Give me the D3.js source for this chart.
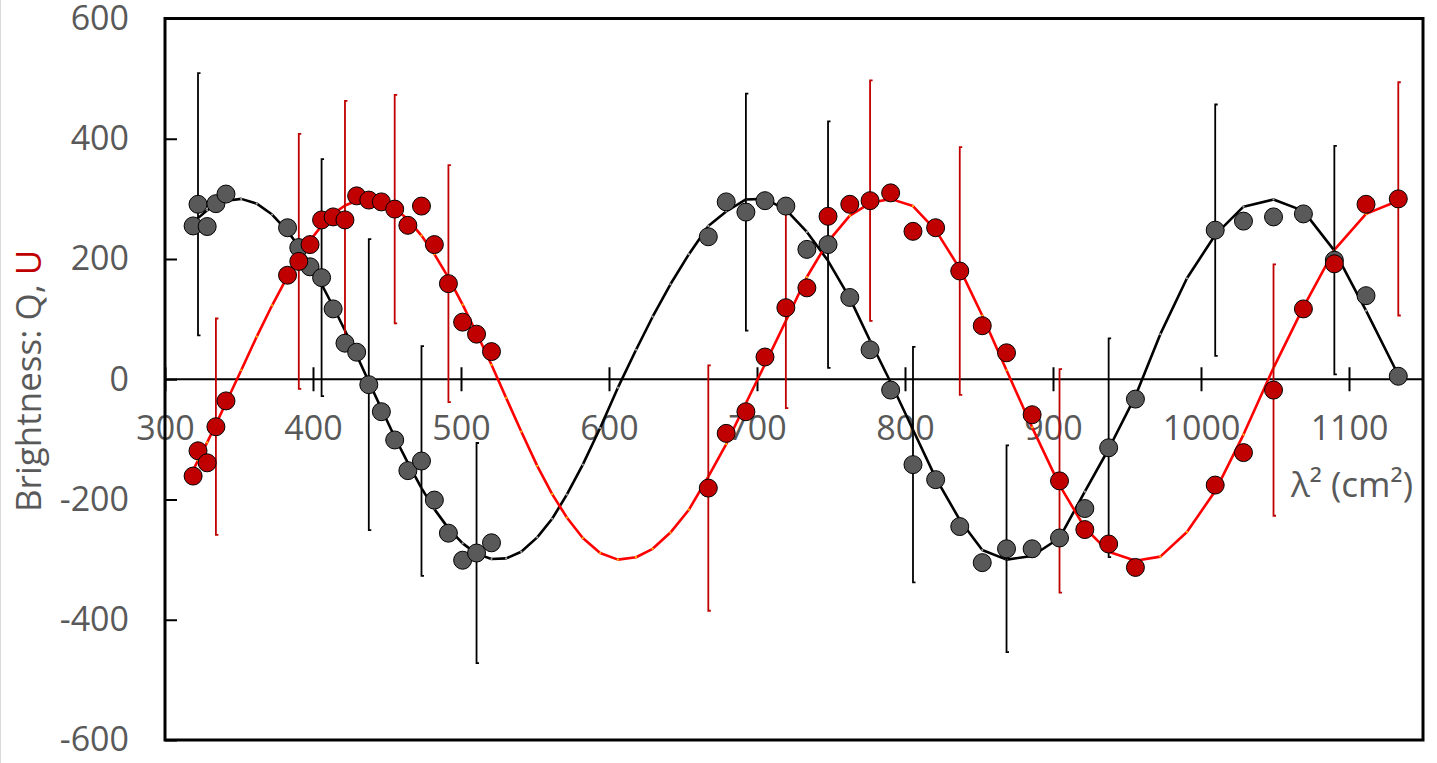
<!DOCTYPE html>
<html>
<head>
<meta charset="utf-8">
<script src="https://cdn.jsdelivr.net/npm/d3@7"></script>
<style>
  body { margin: 0; background: #fff; }
  svg { display: block; }
  text { font-family: 'Open Sans', sans-serif; fill: #595959; }
</style>
</head>
<body>
<div id="chart"></div>
<script>
// observed points (lambda^2 in cm^2), Stokes Q and U, error bars (null = none)
const lambda2 = [319, 322.3, 328.5, 334.4, 341.2, 382.8, 390.4, 398, 405.8, 413.6, 421.6,
  429.5, 437.7, 446.2, 455.2, 464.1, 473.3, 482, 491.5, 501.1, 510.5, 520.6,
  667.1, 679.2, 692.5, 705.4, 719.5, 733.7, 748, 762.7, 776.4, 790.3, 805.4, 820.7,
  837, 852.2, 868.6, 885.9, 904.4, 921.5, 937.6, 955.7,
  1009.6, 1028.7, 1049, 1069.2, 1090.1, 1111.5, 1133.3]
const qObs = [255, 291, 254, 292, 308, 252, 219, 187, 169, 117, 60, 45, -9, -54, -101, -152,
  -136, -201, -256, -301, -289, -272,
  237, 295, 278, 297, 288, 216, 224, 136, 49, -18, -142, -167, -245, -305, -282, -282,
  -264, -215, -114, -33,
  248, 263, 270, 275, 198, 139, 5]
const uObs = [-161, -119, -139, -79, -36, 173, 196, 224, 265, 270, 265, 305, 298, 295, 283, 256,
  288, 224, 159, 95, 75, 46,
  -181, -90, -54, 37, 119, 152, 271, 291, 297, 310, 246, 252, 180, 89, 44, -59,
  -169, -250, -274, -313,
  -176, -122, -18, 117, 192, 291, 300]
const qErr = [null, 218, null, null, null, null, null, null, 197, null, null, null, 242, null,
  null, null, 191, null, null, null, 183, null,
  null, null, 197, null, null, null, 205, null, null, null, 196, null, null, null, 172, null,
  null, null, 182, null,
  209, null, null, null, 190, null, null]
const uErr = [null, null, null, 180, null, null, 212, null, null, null, 198, null, null, null,
  190, null, null, null, 197, null, null, null,
  204, null, null, null, 167, null, null, null, 200, null, null, null, 206, null, null, null,
  186, null, null, null,
  null, null, 209, null, null, null, 194]

// model curves
const modelX = [319, 322.3, 328.5, 334.4, 341.2, 351.5, 362, 372.4, 382.8, 390.4, 398, 405.8,
  413.6, 421.6, 429.5, 437.7, 446.2, 455.2, 464.1, 473.3, 482, 491.5, 501.1, 510.5, 520.6,
  530.5, 540.7, 551.5, 561.6, 571.5, 582.3, 594, 606, 618.3, 629.5, 641.5, 654,
  667.1, 679.2, 692.5, 705.4, 719.5, 733.7, 748, 762.7, 776.4, 790.3, 805.4, 820.7, 837,
  852.2, 868.6, 885.9, 904.4, 921.5, 937.6, 955.7, 972.5, 990.5,
  1009.6, 1028.7, 1049, 1069.2, 1090.1, 1111.5, 1133.3]
const qModel = [260, 268, 281, 290, 297, 300, 292, 274, 246, 221, 192, 158, 121, 81, 40, -4,
  -49, -96, -139, -181, -216, -248, -273, -290, -299,
  -298, -287, -263, -232, -192, -142, -81, -14, 49, 104, 158, 208,
  255, 279, 299, 300, 282, 245, 197, 135, 64, -5, -84, -164, -234, -284, -300, -294,
  -264, -187, -116, -28, 75, 168,
  240, 287, 299, 280, 214, 114, 7]
const uModel = [-151, -135, -105, -75, -39, 15, 71, 123, 171, 203, 231, 255, 275, 289, 297,
  300, 296, 284, 266, 239, 208, 169, 124, 77, 24,
  -31, -87, -144, -191, -230, -264, -289, -300, -296, -282, -255, -217,
  -162, -108, -40, 25, 97, 170, 229, 272, 293, 300, 288, 248, 184, 106, 15, -80,
  -176, -247, -287, -302, -295, -254,
  -186, -92, 19, 120, 215, 275, 297]

const xTicks = [300, 400, 500, 600, 700, 800, 900, 1000, 1100]
const yTicks = [-600, -400, -200, 0, 200, 400, 600]

const width = 1437
const height = 763
const plot = { left: 165, right: 1423, top: 18.5, bottom: 740 }

let svg = d3
  .select('#chart')
  .append('svg')
  .attr('width', width)
  .attr('height', height)

let xScale = d3.scaleLinear().domain([300, 1150]).range([plot.left, plot.right])
let yScale = d3.scaleLinear().domain([-600, 600]).range([plot.bottom, plot.top])

// plain labels: "1000", "-200" (no grouping, ascii minus)
let plain = d => String(d)

// thin grey edge at the far left
svg.append('line')
  .attr('x1', 0.5).attr('x2', 0.5).attr('y1', 0).attr('y2', height)
  .attr('stroke', '#d9d9d9').attr('stroke-width', 1)

// y axis, ticks pointing inward
let yAxis = svg.append('g')
  .attr('transform', `translate(${plot.left},0)`)
  .call(d3.axisLeft(yScale).tickValues(yTicks).tickFormat(plain).tickSize(-12).tickPadding(36))
yAxis.select('.domain').remove()
yAxis.selectAll('.tick line').attr('stroke', '#000').attr('stroke-width', 2)
yAxis.selectAll('text').attr('font-size', 34).attr('fill', '#595959')
  .style('font-family', "'Open Sans', sans-serif")

// x axis along zero, ticks crossing the line
let xAxis = svg.append('g')
  .attr('transform', `translate(0,${yScale(0)})`)
  .call(d3.axisBottom(xScale).tickValues(xTicks).tickFormat(plain).tickSize(12).tickPadding(25))
xAxis.select('.domain').remove()
xAxis.selectAll('.tick line').attr('y1', -12).attr('stroke', '#000').attr('stroke-width', 2)
xAxis.selectAll('text').attr('font-size', 34).attr('fill', '#595959')
  .style('font-family', "'Open Sans', sans-serif")

svg.append('line')
  .attr('x1', plot.left).attr('x2', plot.right)
  .attr('y1', yScale(0)).attr('y2', yScale(0))
  .attr('stroke', '#000').attr('stroke-width', 2)

// model curves
let model = modelX.map((x, i) => ({ x: x, q: qModel[i], u: uModel[i] }))

let qLine = d3.line().x(d => xScale(d.x)).y(d => yScale(d.q))
let uLine = d3.line().x(d => xScale(d.x)).y(d => yScale(d.u))

svg.append('path')
  .datum(model)
  .attr('d', qLine)
  .attr('fill', 'none')
  .attr('stroke', '#000')
  .attr('stroke-width', 2.6)
  .attr('stroke-linejoin', 'round')

svg.append('path')
  .datum(model)
  .attr('d', uLine)
  .attr('fill', 'none')
  .attr('stroke', '#ff0000')
  .attr('stroke-width', 2.6)
  .attr('stroke-linejoin', 'round')

svg.selectAll('.qdot')
  .data(model)
  .enter()
  .append('circle')
  .attr('r', 1.1)
  .attr('fill', '#a6a6a6')
  .attr('cx', d => xScale(d.x))
  .attr('cy', d => yScale(d.q))

svg.selectAll('.udot')
  .data(model)
  .enter()
  .append('circle')
  .attr('r', 1.1)
  .attr('fill', '#ffc000')
  .attr('cx', d => xScale(d.x))
  .attr('cy', d => yScale(d.u))

// observations
let points = lambda2.map((x, i) => ({
  x: x, q: qObs[i], u: uObs[i], qe: qErr[i], ue: uErr[i]
}))

function errorBars(key, errKey, color) {
  let g = svg.append('g')
  let withErr = points.filter(d => d[errKey] !== null)
  g.selectAll('.bar')
    .data(withErr)
    .enter()
    .append('path')
    .attr('fill', 'none')
    .attr('stroke', color)
    .attr('stroke-width', 1.8)
    .attr('d', d => {
      let x = xScale(d.x)
      let y1 = yScale(d[key] + d[errKey])
      let y2 = yScale(d[key] - d[errKey])
      return `M${x + 2.5},${y1}H${x}V${y2}H${x + 2.5}`
    })
}

errorBars('q', 'qe', '#000')
errorBars('u', 'ue', '#c00000')

svg.selectAll('.qpt')
  .data(points)
  .enter()
  .append('circle')
  .attr('r', 9)
  .attr('fill', '#595959')
  .attr('stroke', '#000')
  .attr('stroke-width', 1)
  .attr('cx', d => xScale(d.x))
  .attr('cy', d => yScale(d.q))

svg.selectAll('.upt')
  .data(points)
  .enter()
  .append('circle')
  .attr('r', 9)
  .attr('fill', '#c00000')
  .attr('stroke', '#000')
  .attr('stroke-width', 1)
  .attr('cx', d => xScale(d.x))
  .attr('cy', d => yScale(d.u))

// frame
svg.append('rect')
  .attr('x', plot.left)
  .attr('y', plot.top)
  .attr('width', plot.right - plot.left)
  .attr('height', plot.bottom - plot.top)
  .attr('fill', 'none')
  .attr('stroke', '#000')
  .attr('stroke-width', 3)

// axis titles
svg.append('text')
  .attr('x', 1413)
  .attr('y', 497)
  .attr('text-anchor', 'end')
  .attr('font-size', 35)
  .text('λ² (cm²)')

let yTitle = svg.append('text')
  .attr('transform', 'translate(41,512) rotate(-90)')
  .attr('font-size', 35)
yTitle.append('tspan').text('Brightness: Q, ')
yTitle.append('tspan').style('fill', '#c00000').text('U')
</script>
</body>
</html>
